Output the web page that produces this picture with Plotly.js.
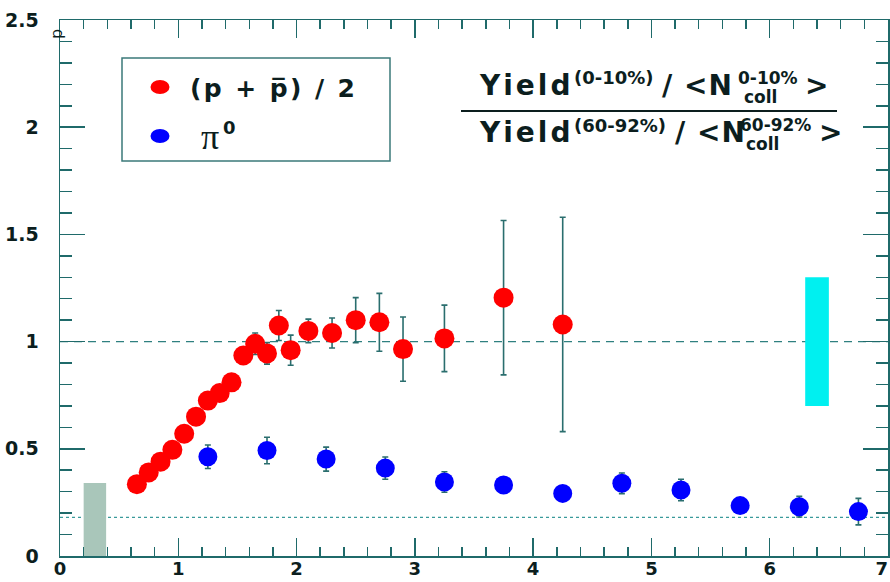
<!DOCTYPE html>
<html>
<head>
<meta charset="utf-8">
<script src="https://cdn.plot.ly/plotly-3.0.1.min.js"></script>
<style>
  html, body { margin: 0; padding: 0; background: #ffffff; }
  #chart { width: 890px; height: 582px; }
</style>
</head>
<body>
<div id="chart"></div>
<script>
// Central-to-peripheral yield ratio scaled by <Ncoll>, versus pT (GeV/c)

// (p + pbar)/2
const protonPt  = [0.65, 0.75, 0.85, 0.95, 1.05, 1.15, 1.25, 1.35, 1.45, 1.55, 1.65, 1.75, 1.85, 1.95, 2.1, 2.3, 2.5, 2.7, 2.9, 3.25, 3.75, 4.25];
const protonR   = [0.335, 0.39, 0.44, 0.495, 0.57, 0.65, 0.725, 0.76, 0.81, 0.935, 0.99, 0.945, 1.075, 0.96, 1.05, 1.04, 1.10, 1.09, 0.965, 1.015, 1.205, 1.08];
const protonErr = [0.01, 0.01, 0.012, 0.013, 0.015, 0.017, 0.02, 0.022, 0.025, 0.03, 0.05, 0.05, 0.07, 0.07, 0.055, 0.07, 0.105, 0.135, 0.15, 0.155, 0.36, 0.50];

// pi0
const pionPt  = [1.25, 1.75, 2.25, 2.75, 3.25, 3.75, 4.25, 4.75, 5.25, 5.75, 6.25, 6.75];
const pionR   = [0.463, 0.492, 0.452, 0.41, 0.345, 0.331, 0.292, 0.339, 0.308, 0.235, 0.23, 0.207];
const pionErr = [0.055, 0.062, 0.056, 0.052, 0.048, 0.035, 0.03, 0.048, 0.05, 0.035, 0.048, 0.062];

// Normalisation uncertainty bands: [left edge, right edge], [bottom, top]
const ncollBandX  = [0.2, 0.39];
const ncollBandY  = [0, 0.34];
const scaleBandX  = [6.3, 6.5];
const scaleBandY  = [0.7, 1.3];

// Reference levels
const unityLevel = 1.0;
const npartLevel = 0.18;

const xTicks = [0, 1, 2, 3, 4, 5, 6, 7];
const xTickText = ['0', '1', '2', '3', '4', '5', '6', '7\u2007'];
const yTicks = [0, 0.5, 1, 1.5, 2, 2.5];

const AXIS = '#1f6a6a';
const INK  = '#0c1e1e';
const BAR  = '#2a6e6e';

// plot frame in pixels, for placing free text
const PL = 60, PR = 888, PT = 20, PB = 556;
const px = x => (x - PL) / (PR - PL);
const py = y => (PB - y) / (PB - PT);

const bandTrace = (xs, ys, color) => ({
  type: 'bar',
  x: [(xs[0] + xs[1]) / 2],
  y: [ys[1] - ys[0]],
  base: [ys[0]],
  width: [xs[1] - xs[0]],
  marker: { color: color, line: { width: 0 } },
  showlegend: false,
  hoverinfo: 'skip'
});

const traces = [
  bandTrace(ncollBandX, ncollBandY, '#a9c6ba'),
  bandTrace(scaleBandX, scaleBandY, '#00f0f0'),
  {
    type: 'scatter', mode: 'markers',
    x: protonPt, y: protonR,
    error_y: { type: 'data', array: protonErr, visible: true, color: BAR, thickness: 1.6, width: 3 },
    marker: { color: '#ff0000', size: 20, line: { width: 0 } },
    showlegend: false
  },
  {
    type: 'scatter', mode: 'markers',
    x: pionPt, y: pionR,
    error_y: { type: 'data', array: pionErr, visible: true, color: BAR, thickness: 1.6, width: 3 },
    marker: { color: '#0000ff', size: 19, line: { width: 0 } },
    showlegend: false
  }
];

const bold = (size) => ({ family: 'DejaVu Sans', size: size, color: INK, weight: 'bold' });
const spaced = (text, px) => `<span style="letter-spacing:${px}px">${text}</span>`;

const ann = (text, x, y, font, extra) => Object.assign({
  text: text, xref: 'paper', yref: 'paper', x: px(x), y: py(y),
  xanchor: 'left', yanchor: 'middle', showarrow: false, font: font
}, extra || {});

const annotations = [
  // legend
  ann(spaced('(p + p\u0305) / 2', 2.4), 188, 88, bold(25)),
  ann('\u03c0', 199, 137, { family: 'Liberation Serif', size: 36, color: INK }),
  ann('0', 221, 127, bold(18)),

  // numerator
  ann(spaced('Yield', 3), 477, 85, bold(28)),
  ann('(0-10%)', 572, 77, bold(18)),
  ann(spaced('/ &lt;N', 1), 660, 85, bold(28)),
  ann('0-10%', 736, 78, bold(17)),
  ann('coll', 742, 97, bold(17)),
  ann('&gt;', 803, 85, bold(28)),

  // denominator
  ann(spaced('Yield', 3), 477, 132, bold(28)),
  ann('(60-92%)', 572, 125, bold(18)),
  ann(spaced('/ &lt;N', 1), 673, 132, bold(28)),
  ann('60-92%', 738, 125, bold(17)),
  ann('coll', 744, 144, bold(17)),
  ann('&gt;', 817, 132, bold(28)),

  // clipped axis title glyph
  ann('p', 56, 34, { family: 'DejaVu Sans', size: 16, color: INK }, { textangle: -90, xanchor: 'center' })
];

const shapes = [
  // legend frame and symbols
  { type: 'rect', xref: 'paper', yref: 'paper', x0: px(122), x1: px(390), y0: py(58), y1: py(161),
    line: { color: '#3b7a7a', width: 1.5 }, fillcolor: 'rgba(0,0,0,0)' },
  { type: 'circle', xref: 'paper', yref: 'paper', x0: px(150.5), x1: px(169.5), y0: py(80), y1: py(94),
    fillcolor: '#ff0000', line: { width: 0 } },
  { type: 'circle', xref: 'paper', yref: 'paper', x0: px(150.5), x1: px(169.5), y0: py(129), y1: py(143),
    fillcolor: '#0000ff', line: { width: 0 } },
  // fraction bar
  { type: 'line', xref: 'paper', yref: 'paper', x0: px(461), x1: px(837), y0: py(111), y1: py(111),
    line: { color: INK, width: 2 } },
  // reference lines
  { type: 'line', xref: 'paper', yref: 'y', x0: 0, x1: 1, y0: unityLevel, y1: unityLevel,
    line: { color: '#2f8080', width: 1.4, dash: '8px,6px' }, layer: 'below' },
  { type: 'line', xref: 'paper', yref: 'y', x0: 0, x1: 1, y0: npartLevel, y1: npartLevel,
    line: { color: '#3a9a9a', width: 1.2, dash: 'dot' }, layer: 'below' }
];

const layout = {
  width: 890, height: 582,
  margin: { l: PL, r: 890 - PR, t: PT, b: 582 - PB, pad: 0 },
  paper_bgcolor: '#ffffff', plot_bgcolor: '#ffffff',
  showlegend: false,
  barmode: 'overlay',
  xaxis: {
    range: [0, 7], tickvals: xTicks, ticktext: xTickText,
    showgrid: false, zeroline: false,
    showline: true, linecolor: AXIS, linewidth: 1.5, mirror: 'ticks',
    ticks: 'inside', ticklen: 18, tickwidth: 1.5, tickcolor: AXIS,
    minor: { dtick: 0.2, ticks: 'inside', ticklen: 9, tickwidth: 1.5, tickcolor: AXIS, showgrid: false },
    tickfont: bold(18), ticklabelstandoff: -4, ticklabeloverflow: 'allow'
  },
  yaxis: {
    range: [0, 2.5], tickvals: yTicks, ticktext: yTicks.map(String),
    showgrid: false, zeroline: false,
    showline: true, linecolor: AXIS, linewidth: 1.5, mirror: 'ticks',
    ticks: 'inside', ticklen: 25, tickwidth: 1.5, tickcolor: AXIS,
    minor: { dtick: 0.1, ticks: 'inside', ticklen: 12, tickwidth: 1.5, tickcolor: AXIS, showgrid: false },
    tickfont: bold(19), ticklabelstandoff: 16, ticklabeloverflow: 'allow'
  },
  annotations: annotations,
  shapes: shapes
};

Plotly.newPlot('chart', traces, layout, { staticPlot: true, displayModeBar: false });
</script>
</body>
</html>
